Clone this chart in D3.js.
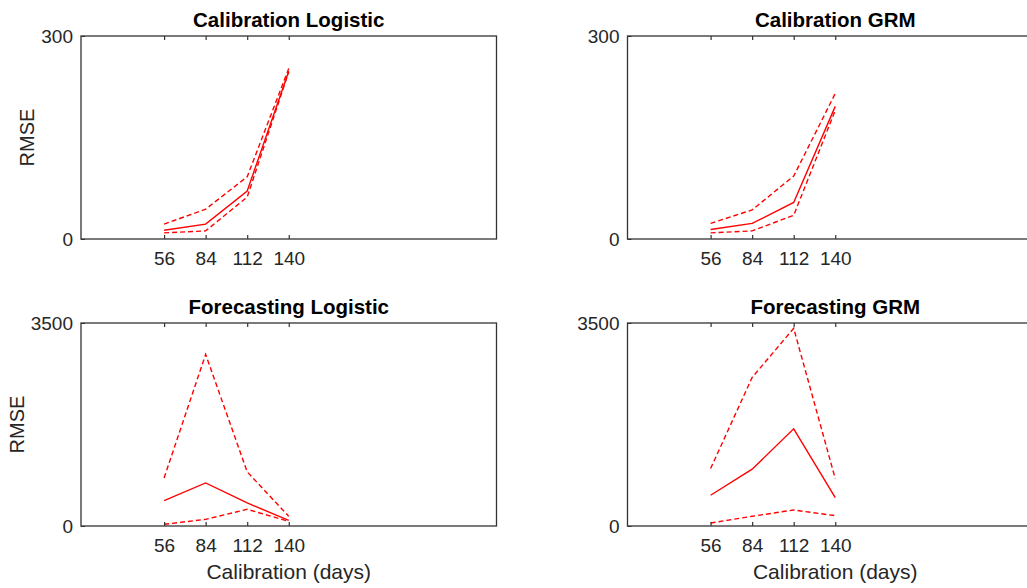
<!DOCTYPE html>
<html><head><meta charset="utf-8">
<script src="https://cdn.jsdelivr.net/npm/d3@7"></script>
<style>html,body{margin:0;padding:0;background:#fff;overflow:hidden}</style>
</head><body>
<svg id="c" width="1027" height="588"></svg>
<script>
const days = [56, 84, 112, 140];
const xTicks = [56, 84, 112, 140];

const calLogMean  = [13, 22, 71, 248];
const calLogUpper = [22, 44, 92, 252];
const calLogLower = [9, 12, 62, 247];

const calGrmMean  = [14, 23, 54, 196];
const calGrmUpper = [23, 43, 93, 215];
const calGrmLower = [9, 12, 35, 190];

const fcLogMean  = [437, 743, 397, 98];
const fcLogUpper = [829, 2959, 933, 167];
const fcLogLower = [29, 115, 288, 80];

const fcGrmMean  = [530, 979, 1675, 489];
const fcGrmUpper = [990, 2562, 3408, 817];
const fcGrmLower = [52, 167, 276, 178];

const panels = [
  {title: "Calibration Logistic", ymax: 300, mean: calLogMean, upper: calLogUpper, lower: calLogLower, left: 81, top: 36, ylabel: true, ylabelX: 34, xlabel: false},
  {title: "Calibration GRM", ymax: 300, mean: calGrmMean, upper: calGrmUpper, lower: calGrmLower, left: 627.5, top: 36, ylabel: false, xlabel: false},
  {title: "Forecasting Logistic", ymax: 3500, mean: fcLogMean, upper: fcLogUpper, lower: fcLogLower, left: 81, top: 323, ylabel: true, ylabelX: 24, xlabel: true},
  {title: "Forecasting GRM", ymax: 3500, mean: fcGrmMean, upper: fcGrmUpper, lower: fcGrmLower, left: 627.5, top: 323, ylabel: false, xlabel: true}
];

const W = 415.5, H = 203;
const axisColor = "#333333";
const font = "'Liberation Sans', Arial, Helvetica, sans-serif";
const svg = d3.select("#c");

panels.forEach(p => {
  const g = svg.append("g").attr("transform", `translate(${p.left},${p.top})`);
  const x = d3.scaleLinear().domain([0, 280]).range([0, W]);
  const y = d3.scaleLinear().domain([0, p.ymax]).range([H, 0]);

  const line = d3.line().x((d, i) => x(days[i])).y(d => y(d));
  [[p.upper, "5,3"], [p.lower, "5,3"], [p.mean, null]].forEach(([vals, dash]) => {
    g.append("path").datum(vals).attr("d", line)
      .attr("fill", "none").attr("stroke", "#ff0000").attr("stroke-width", 1.4)
      .attr("stroke-dasharray", dash);
  });

  // box
  g.append("rect").attr("x", 0).attr("y", 0).attr("width", W).attr("height", H)
    .attr("fill", "none").attr("stroke", axisColor).attr("stroke-width", 1.3);

  // bottom axis (ticks inward)
  const xb = g.append("g").attr("transform", `translate(0,${H})`)
    .call(d3.axisBottom(x).tickValues(xTicks).tickSize(-4).tickPadding(12.5).tickFormat(d3.format("d")));
  xb.select(".domain").remove();
  xb.selectAll("line").attr("stroke", axisColor).attr("stroke-width", 1.2);
  xb.selectAll("text").attr("fill", "#262626").style("font-family", font).style("font-size", "19px");

  const xt = g.append("g")
    .call(d3.axisTop(x).tickValues(xTicks).tickSize(-4).tickFormat(""));
  xt.select(".domain").remove();
  xt.selectAll("line").attr("stroke", axisColor).attr("stroke-width", 1.2);

  const ya = g.append("g")
    .call(d3.axisLeft(y).tickValues([0, p.ymax]).tickSize(-4).tickPadding(8).tickFormat(d3.format("d")));
  ya.select(".domain").remove();
  ya.selectAll("line").attr("stroke", axisColor);
  ya.selectAll("text").attr("fill", "#262626").style("font-family", font).style("font-size", "19px");

  g.append("text").attr("x", W / 2).attr("y", -9).attr("text-anchor", "middle")
    .style("font-family", font).style("font-size", "20.5px").style("font-weight", "bold")
    .attr("fill", "#000").text(p.title);

  if (p.ylabel) {
    svg.append("text")
      .attr("transform", `translate(${p.ylabelX},${p.top + H / 2}) rotate(-90)`)
      .attr("text-anchor", "middle")
      .style("font-family", font).style("font-size", "20px").attr("fill", "#262626").text("RMSE");
  }
  if (p.xlabel) {
    g.append("text").attr("x", W / 2).attr("y", H + 53).attr("text-anchor", "middle")
      .style("font-family", font).style("font-size", "21px").attr("fill", "#262626").text("Calibration (days)");
  }
});
</script>
</body></html>
